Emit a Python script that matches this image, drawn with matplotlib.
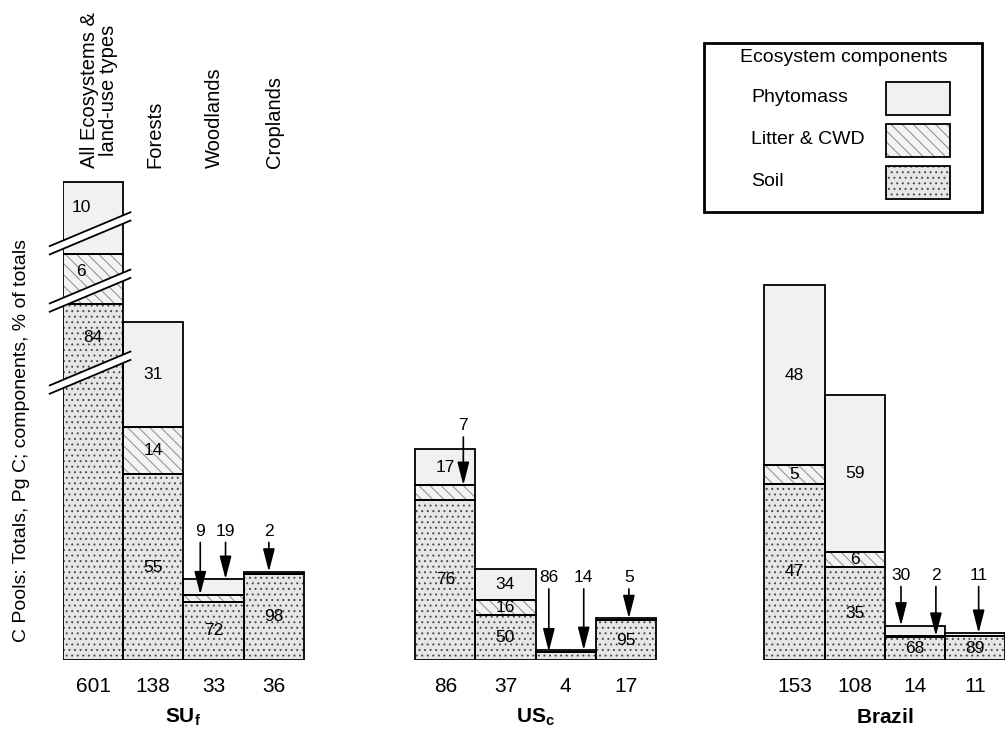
import matplotlib
matplotlib.use('Agg')
import matplotlib.pyplot as plt
from matplotlib.patches import Rectangle, Polygon

plt.rcParams['font.family'] = ['Liberation Sans', 'DejaVu Sans']
plt.rcParams['mathtext.fontset'] = 'custom'
plt.rcParams['mathtext.rm'] = 'Liberation Sans'
plt.rcParams['mathtext.bf'] = 'Liberation Sans:bold'
plt.rcParams['hatch.linewidth'] = 0.7

# land-use columns and regions
land_types = ['All Ecosystems &\nland-use types', 'Forests', 'Woodlands', 'Croplands']
regions = [r'$\mathbf{SU_f}$', r'$\mathbf{US_c}$', r'$\mathbf{Brazil}$']
components = ['Phytomass', 'Litter & CWD', 'Soil']

# totals, Pg C
su_totals = [601, 138, 33, 36]
us_totals = [86, 37, 4, 17]
br_totals = [153, 108, 14, 11]

# components, % of totals
su_soil = [84, 55, 72, 98]
su_litter = [6, 14, 9, 0]
su_phyto = [10, 31, 19, 2]

us_soil = [76, 50, 86, 95]
us_litter = [7, 16, 0, 0]
us_phyto = [17, 34, 14, 5]

br_soil = [47, 35, 68, 89]
br_litter = [5, 6, 2, 0]
br_phyto = [48, 59, 30, 11]

totals = [su_totals, us_totals, br_totals]
shares = [
    [su_soil, su_litter, su_phyto],
    [us_soil, us_litter, us_phyto],
    [br_soil, br_litter, br_phyto],
]

# ---- layout / style ----
group_x = [0, 5.85, 11.65]
break_cap = 195          # drawn height of the broken 601 bar
break_pos = [0.19, 0.71, 0.69]   # break position, fraction of segment from its top (soil, litter, phyto)
# stacking order bottom -> top: soil, litter, phyto
styles = [
    dict(face='#e6e6e6', hatch='...', hcol='#4a4a4a'),   # soil
    dict(face='#f3f3f3', hatch='\\\\\\', hcol='#8a8a8a'),  # litter
    dict(face='#f1f1f1', hatch=None, hcol='#f1f1f1'),    # phytomass
]
# arrow-labelled thin segments: (group, bar, component index, x fraction, arrow start height)
arrow_marks = [
    (0, 2, 1, 0.28, 48), (0, 2, 2, 0.70, 48), (0, 3, 2, 0.42, 48),
    (1, 0, 1, 0.80, 91), (1, 2, 0, 0.22, 29), (1, 2, 2, 0.80, 29), (1, 3, 2, 0.55, 29),
    (2, 2, 2, 0.27, 30), (2, 2, 1, 0.85, 30), (2, 3, 2, 0.56, 30),
]
arrowed = {(g, b, c) for g, b, c, _, _ in arrow_marks}

fig = plt.figure(figsize=(10.05, 7.32), dpi=100)
ax = fig.add_axes([63 / 1005, 72 / 732, 942 / 1005, 660 / 732])
ax.set_xlim(0, 942 / 60.2)
ax.set_ylim(0, 660 / 2.45)
ax.axis('off')

seg_tops = {}
for g in range(3):
    for b in range(4):
        tot = totals[g][b]
        pcts = [shares[g][c][b] for c in range(3)]
        broken = (g == 0 and b == 0)
        if broken:
            raw = [(tot * p / 100) ** 0.75 for p in pcts]
            heights = [break_cap * r / sum(raw) for r in raw]
        else:
            heights = [tot * p / 100 for p in pcts]
        x = group_x[g] + b
        bottom = 0
        for c in range(3):
            h = heights[c]
            st = styles[c]
            ax.bar(x, h, width=1, bottom=bottom, align='edge', color=st['face'],
                   hatch=st['hatch'], edgecolor=st['hcol'], linewidth=0, zorder=2)
            ax.bar(x, h, width=1, bottom=bottom, align='edge', fill=False,
                   edgecolor='black', linewidth=1.3, zorder=3)
            top = bottom + h
            seg_tops[(g, b, c)] = top
            if broken:
                yc = top - break_pos[c] * h
                ylab = (top + yc) / 2
                xlab = x + (0.3 if c else 0.5)
                ax.text(xlab, ylab, str(pcts[c]), ha='center', va='center', fontsize=12.5, zorder=6)
                s, gap = 10.3, 3.4
                x0, x1 = x - 0.22, x + 1.12
                y0, y1 = yc + s * (x0 - x - 0.5), yc + s * (x1 - x - 0.5)
                ax.add_patch(Polygon([(x0, y0 - gap / 2), (x1, y1 - gap / 2),
                                      (x1, y1 + gap / 2), (x0, y0 + gap / 2)],
                                     closed=True, facecolor='white', edgecolor='none',
                                     zorder=5, clip_on=False))
                for d in (-gap / 2, gap / 2):
                    ax.plot([x0, x1], [y0 + d, y1 + d], color='black', lw=1.3,
                            zorder=5, clip_on=False)
            elif pcts[c] > 0 and (g, b, c) not in arrowed:
                ax.text(x + 0.5, bottom + h / 2, str(pcts[c]), ha='center', va='center',
                        fontsize=12.5, zorder=6)
            bottom = top
        ax.text(x + 0.5, -11, str(tot), ha='center', va='center', fontsize=15, clip_on=False)
    ax.text(group_x[g] + 2, -23.3, regions[g], ha='center', va='center', fontsize=15,
            clip_on=False)

for g, b, c, fx, start in arrow_marks:
    x = group_x[g] + b + fx
    tip = seg_tops[(g, b, c)]
    ax.annotate('', xy=(x, tip), xytext=(x, start),
                arrowprops=dict(arrowstyle='-|>,head_length=1.4,head_width=0.36',
                                mutation_scale=10, color='black', lw=1.2,
                                shrinkA=0, shrinkB=0), zorder=7)
    ax.text(x, start + 1.5, str(shares[g][c][b]), ha='center', va='bottom', fontsize=12.5)

# column headings over the first group
for b, name in enumerate(land_types):
    ax.text(group_x[0] + b + (0.6 if b == 0 else 0.52), 200.8, name, rotation=90,
            ha='center', va='bottom', fontsize=14.5, linespacing=1.05)

fig.text(22 / 1005, 1 - 440 / 732, 'C Pools: Totals, Pg C; components, % of totals',
         rotation=90, ha='center', va='center', fontsize=14)

# legend box
lg = fig.add_axes([703 / 1005, 1 - 213 / 732, 280 / 1005, 171 / 732])
lg.set_xlim(0, 280)
lg.set_ylim(171, 0)
lg.axis('off')
lg.add_patch(Rectangle((1, 1), 278, 169, fill=False, edgecolor='black', lw=2, clip_on=False))
lg.text(141, 16, 'Ecosystem components', ha='center', va='center', fontsize=14)
for row, c in enumerate([2, 1, 0]):
    yy = 40 + row * 42
    st = styles[c]
    lg.text(48, yy + 16, components[row], ha='left', va='center', fontsize=14)
    lg.add_patch(Rectangle((183, yy), 64, 33, facecolor=st['face'], hatch=st['hatch'],
                           edgecolor=st['hcol'], lw=0))
    lg.add_patch(Rectangle((183, yy), 64, 33, fill=False, edgecolor='black', lw=1.3))

fig.savefig('out.png', dpi=100)
